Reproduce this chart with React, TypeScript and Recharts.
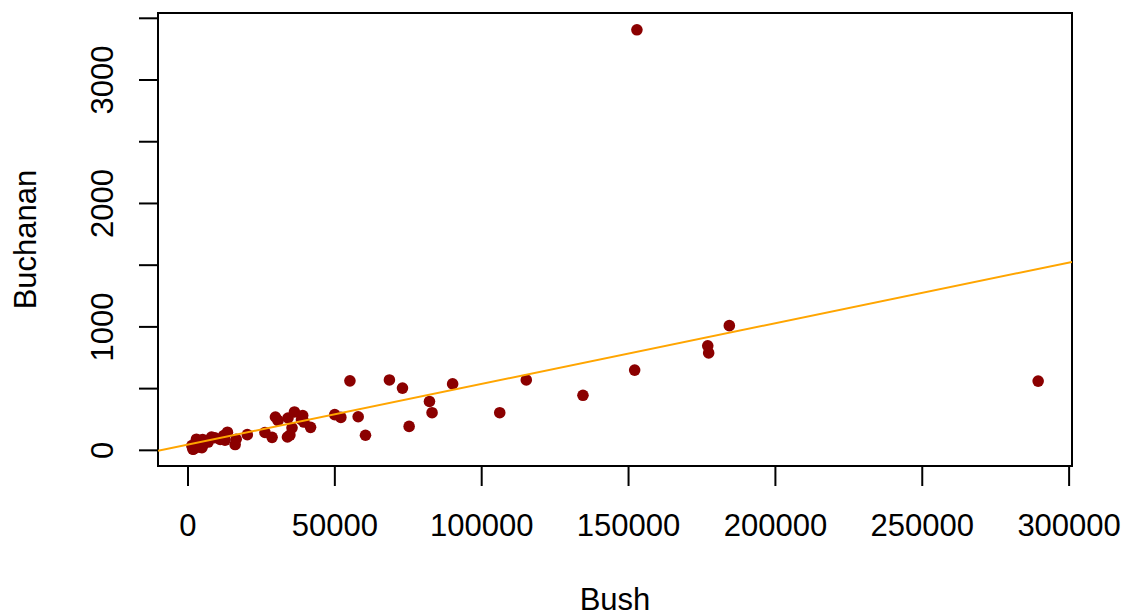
import React from 'react';
import {
  ScatterChart,
  Scatter,
  XAxis,
  YAxis,
  ReferenceArea,
} from 'recharts';

// Florida 2000: votes per county
const counties = [
  'Alachua', 'Baker', 'Bay', 'Bradford', 'Brevard', 'Broward', 'Calhoun', 'Charlotte',
  'Citrus', 'Clay', 'Collier', 'Columbia', 'Dade', 'DeSoto', 'Dixie', 'Duval',
  'Escambia', 'Flagler', 'Franklin', 'Gadsden', 'Gilchrist', 'Glades', 'Gulf', 'Hamilton',
  'Hardee', 'Hendry', 'Hernando', 'Highlands', 'Hillsborough', 'Holmes', 'Indian River', 'Jackson',
  'Jefferson', 'Lafayette', 'Lake', 'Lee', 'Leon', 'Levy', 'Liberty', 'Madison',
  'Manatee', 'Marion', 'Martin', 'Monroe', 'Nassau', 'Okaloosa', 'Okeechobee', 'Orange',
  'Osceola', 'Palm Beach', 'Pasco', 'Pinellas', 'Polk', 'Putnam', 'St. Johns', 'St. Lucie',
  'Santa Rosa', 'Sarasota', 'Seminole', 'Sumter', 'Suwannee', 'Taylor', 'Union', 'Volusia',
  'Wakulla', 'Walton', 'Washington',
];

const bush = [
  34062, 5610, 38637, 5413, 115185, 177279, 2873, 35426,
  29766, 41736, 60433, 10964, 289456, 4256, 2698, 152082,
  73029, 12608, 2448, 4750, 3300, 1840, 3546, 2153,
  3764, 4743, 30646, 20196, 176967, 4985, 28627, 9138,
  2481, 1669, 49963, 106141, 39053, 6858, 1317, 3038,
  57948, 55135, 33864, 16059, 16404, 52043, 5058, 134476,
  26216, 152846, 68581, 184312, 90101, 13439, 39497, 34705,
  36248, 83100, 75293, 12126, 8014, 4051, 2326, 82214,
  4511, 12176, 4983,
];

const buchanan = [
  262, 73, 248, 65, 570, 789, 90, 182,
  270, 186, 122, 89, 561, 36, 29, 650,
  504, 83, 33, 39, 29, 9, 71, 24,
  30, 22, 242, 127, 847, 76, 105, 102,
  29, 10, 289, 305, 282, 67, 39, 29,
  272, 563, 108, 47, 90, 267, 43, 446,
  145, 3407, 570, 1010, 538, 147, 229, 124,
  311, 305, 194, 114, 108, 27, 37, 396,
  46, 120, 88,
];

const xTicks = [0, 50000, 100000, 150000, 200000, 250000, 300000];
const yTicks = [0, 500, 1000, 1500, 2000, 2500, 3000, 3500];
// R drops the labels that would overlap
const yLabels = [0, 1000, 2000, 3000];

const points = counties.map((name, i) => ({ name, bush: bush[i], buchanan: buchanan[i] }));

// R-style 4% padding of the data range
const pad = (vals: number[]) => {
  const lo = Math.min(...vals);
  const hi = Math.max(...vals);
  const d = (hi - lo) * 0.04;
  return [lo - d, hi + d];
};
const xDomain = pad(bush);
const yDomain = pad(buchanan);

// least squares fit buchanan ~ bush
const n = bush.length;
const mx = bush.reduce((s, v) => s + v, 0) / n;
const my = buchanan.reduce((s, v) => s + v, 0) / n;
let sxy = 0;
let sxx = 0;
for (let i = 0; i < n; i++) {
  sxy += (bush[i] - mx) * (buchanan[i] - my);
  sxx += (bush[i] - mx) * (bush[i] - mx);
}
const slope = sxy / sxx;
const intercept = my - slope * mx;
const fitLine = xDomain.map((x) => ({ bush: x, buchanan: intercept + slope * x }));

const FONT = '"Liberation Sans", Arial, Helvetica, sans-serif';

const XTick = (props: any) => {
  const { x, y, payload } = props;
  return (
    <text x={x} y={y} dy={22} textAnchor="middle" fontSize={31} fontFamily={FONT} fill="#000">
      {payload.value}
    </text>
  );
};

const YTick = (props: any) => {
  const { x, y, payload } = props;
  if (!yLabels.includes(payload.value)) return <g />;
  return (
    <text
      x={x}
      y={y}
      transform={`rotate(-90 ${x} ${y})`}
      textAnchor="middle"
      fontSize={31}
      fontFamily={FONT}
      fill="#000"
    >
      {payload.value}
    </text>
  );
};

const App = () => {
  return (
    <div style={{ position: 'absolute', left: 0, top: 0, background: '#fff' }}>
      <ScatterChart
        width={1127}
        height={616}
        margin={{ top: 13, right: 55, bottom: 0, left: 0 }}
      >
        <XAxis
          type="number"
          dataKey="bush"
          domain={xDomain}
          ticks={xTicks}
          allowDataOverflow
          axisLine={false}
          tickSize={20}
          tickMargin={28}
          tickLine={{ stroke: '#000', strokeWidth: 2 }}
          tick={<XTick />}
          height={150}
          interval={0}
          label={(p: any) => {
            const vb = p.viewBox;
            return (
              <text
                x={vb.x + vb.width / 2}
                y={vb.y + 144}
                textAnchor="middle"
                fontSize={31}
                fontFamily={FONT}
                fill="#000"
              >
                Bush
              </text>
            );
          }}
        />
        <YAxis
          type="number"
          dataKey="buchanan"
          domain={yDomain}
          ticks={yTicks}
          allowDataOverflow
          axisLine={false}
          tickSize={19}
          tickMargin={26}
          tickLine={{ stroke: '#000', strokeWidth: 2 }}
          tick={<YTick />}
          width={158}
          interval={0}
          label={(p: any) => {
            const vb = p.viewBox;
            const cx = vb.x + 36;
            const cy = vb.y + vb.height / 2;
            return (
              <text
                x={cx}
                y={cy}
                transform={`rotate(-90 ${cx} ${cy})`}
                textAnchor="middle"
                fontSize={31}
                fontFamily={FONT}
                fill="#000"
              >
                Buchanan
              </text>
            );
          }}
        />
        <Scatter
          data={points}
          isAnimationActive={false}
          shape={(p: any) => <circle cx={p.cx} cy={p.cy} r={5.8} fill="#8B0000" />}
        />
        <Scatter
          data={fitLine}
          isAnimationActive={false}
          line={{ stroke: '#FFA500', strokeWidth: 2 }}
          shape={() => <g />}
        />
        <ReferenceArea
          x1={xDomain[0]}
          x2={xDomain[1]}
          y1={yDomain[0]}
          y2={yDomain[1]}
          fill="none"
          fillOpacity={0}
          stroke="#000"
          strokeWidth={2}
          ifOverflow="visible"
        />
      </ScatterChart>
    </div>
  );
};

export default App;
